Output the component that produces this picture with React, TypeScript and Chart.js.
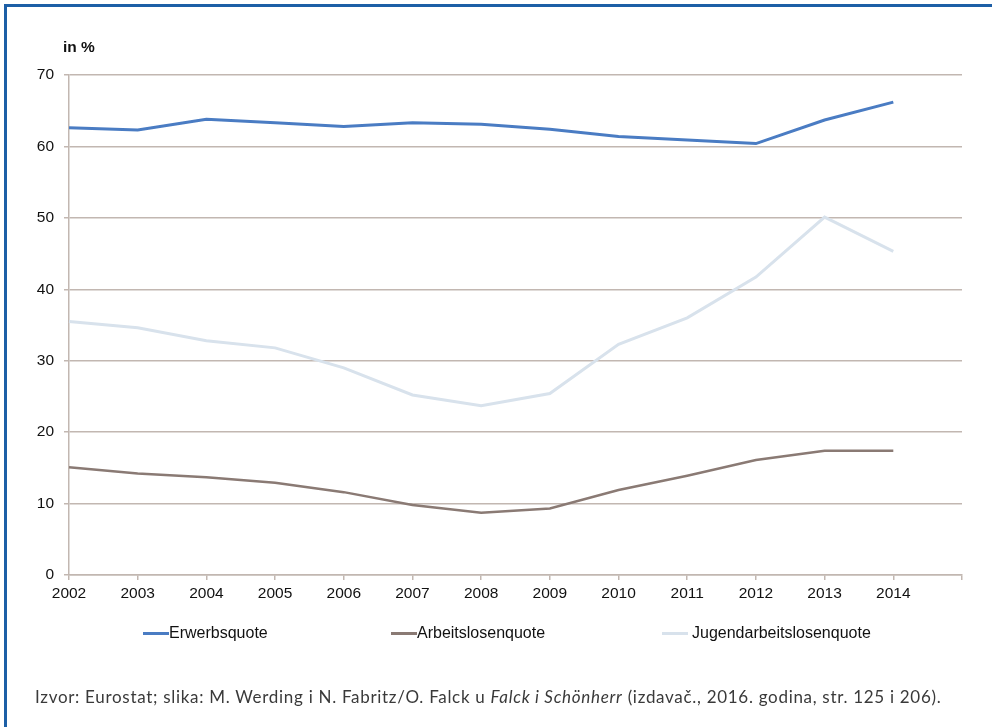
import React, { useEffect, useRef } from "react";
import { Chart, registerables } from "chart.js";

Chart.register(...registerables);

const years = ["2002", "2003", "2004", "2005", "2006", "2007", "2008", "2009", "2010", "2011", "2012", "2013", "2014", ""];
const erwerbsquote = [62.6, 62.3, 63.8, 63.3, 62.8, 63.3, 63.1, 62.4, 61.4, 60.9, 60.4, 63.7, 66.2, null];
const arbeitslosenquote = [15.1, 14.2, 13.7, 12.9, 11.6, 9.8, 8.7, 9.3, 11.9, 13.9, 16.1, 17.4, 17.4, null];
const jugendarbeitslosenquote = [35.5, 34.6, 32.8, 31.8, 29.0, 25.2, 23.7, 25.4, 32.3, 36.0, 41.7, 50.1, 45.3, null];
const seriesNames = ["Erwerbsquote", "Arbeitslosenquote", "Jugendarbeitslosenquote"];
const seriesColors = ["#4a7cc3", "#8a7a74", "#d8e2ec"];
const yTicks = [0, 10, 20, 30, 40, 50, 60, 70];
const unitLabel = "in %";

const legendLayout = [
  { lineLeft: 143, textLeft: 169 },
  { lineLeft: 391, textLeft: 417 },
  { lineLeft: 662, textLeft: 692 },
];

export default function App() {
  const ref = useRef<HTMLCanvasElement | null>(null);

  useEffect(() => {
    if (!ref.current) return;
    const gridColor = "#c2b7b1";
    const chart = new Chart(ref.current, {
      type: "line",
      data: {
        labels: years,
        datasets: [
          { label: seriesNames[0], data: erwerbsquote, borderColor: seriesColors[0], borderWidth: 3, pointRadius: 0, tension: 0 },
          { label: seriesNames[1], data: arbeitslosenquote, borderColor: seriesColors[1], borderWidth: 2.5, pointRadius: 0, tension: 0 },
          { label: seriesNames[2], data: jugendarbeitslosenquote, borderColor: seriesColors[2], borderWidth: 3, pointRadius: 0, tension: 0 },
        ],
      },
      options: {
        responsive: false,
        animation: false,
        layout: { padding: { left: 0, right: 30, top: 75, bottom: 0 } },
        plugins: { legend: { display: false }, tooltip: { enabled: false }, title: { display: false } },
        scales: {
          x: {
            type: "category",
            offset: false,
            afterFit: (s: any) => { s.height = 152; },
            grid: { display: true, drawOnChartArea: false, drawTicks: true, tickLength: 5, color: gridColor, lineWidth: 1.5 },
            border: { display: true, color: gridColor, width: 1.5 },
            ticks: { autoSkip: false, maxRotation: 0, padding: 4, color: "#111", font: { family: "'Liberation Sans', Arial, sans-serif", size: 15.5 } },
          },
          y: {
            min: 0,
            max: 70,
            afterFit: (s: any) => { s.width = 69; },
            afterBuildTicks: (s: any) => { s.ticks = yTicks.map((v) => ({ value: v })); },
            grid: { color: gridColor, lineWidth: 1.5, tickLength: 5 },
            border: { display: true, color: gridColor, width: 1.5 },
            ticks: { padding: 10, color: "#111", font: { family: "'Liberation Sans', Arial, sans-serif", size: 15.5 } },
          },
        },
      },
    });
    return () => chart.destroy();
  }, []);

  const sans = "'Liberation Sans', Arial, sans-serif";

  return (
    <div style={{ position: "absolute", left: 0, top: 0, width: 992, height: 727, overflow: "hidden", background: "#fff" }}>
      <div style={{ position: "absolute", left: 4, top: 4, width: 988, height: 3, background: "#1d5fa6" }} />
      <div style={{ position: "absolute", left: 4, top: 4, width: 3, height: 723, background: "#1d5fa6" }} />
      <canvas ref={ref} width={992} height={727} style={{ position: "absolute", left: 0, top: 0 }} />
      <div style={{ position: "absolute", left: 63, top: 38, fontFamily: sans, fontSize: 15.5, fontWeight: "bold", color: "#111", lineHeight: "18px" }}>{unitLabel}</div>
      {seriesNames.map((name, i) => (
        <React.Fragment key={name}>
          <div style={{ position: "absolute", left: legendLayout[i].lineLeft, top: 632, width: 26, height: 3, background: seriesColors[i] }} />
          <div style={{ position: "absolute", left: legendLayout[i].textLeft, top: 624, fontFamily: sans, fontSize: 16, color: "#111", lineHeight: "18px", whiteSpace: "nowrap" }}>{name}</div>
        </React.Fragment>
      ))}
      <div style={{ position: "absolute", left: 35, top: 686, fontFamily: "Lato, 'Noto Sans', sans-serif", fontSize: 17, letterSpacing: "0.7px", color: "#3a3a3a", lineHeight: "22px", whiteSpace: "nowrap" }}>
        Izvor: Eurostat; slika: M. Werding i N. Fabritz/O. Falck u <i>Falck i Schönherr</i> (izdavač., 2016. godina, str. 125 i 206).
      </div>
    </div>
  );
}
